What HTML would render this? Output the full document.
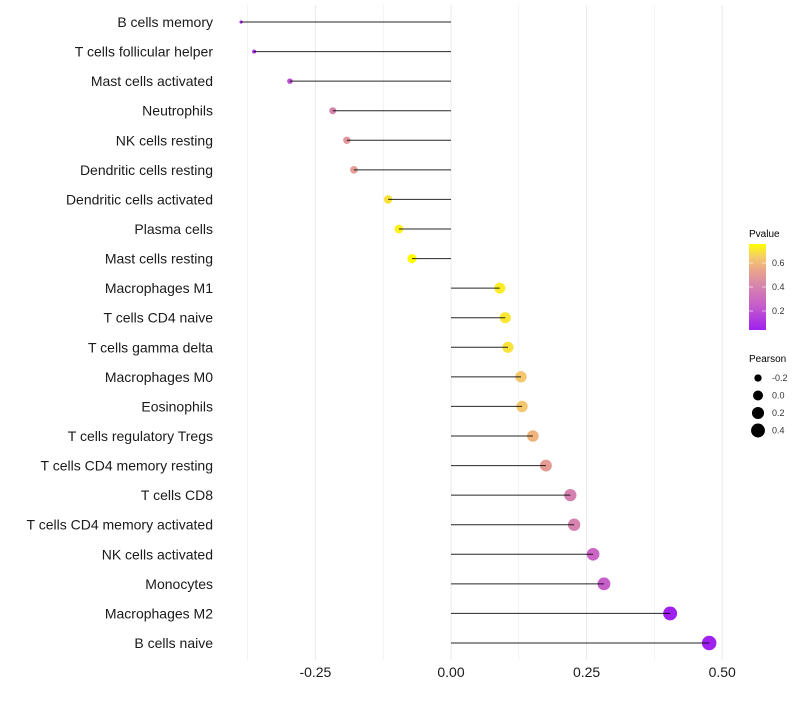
<!DOCTYPE html>
<html><head><meta charset="utf-8"><style>
body{margin:0;background:#fff;font-family:"Liberation Sans",sans-serif}
svg text{font-family:"Liberation Sans",sans-serif}
</style></head><body>
<svg id="chart" width="800" height="700">
<defs><linearGradient id="pg" x1="0" y1="1" x2="0" y2="0">
<stop offset="0" stop-color="#a020f0"/><stop offset="0.3" stop-color="#c860c8"/><stop offset="0.55" stop-color="#d98ba8"/><stop offset="0.7" stop-color="#eba58a"/><stop offset="0.85" stop-color="#f5cc6a"/><stop offset="1" stop-color="#ffff00"/>
</linearGradient></defs>
<g id="grid"></g><g id="marks"></g><g id="labels"></g><g id="xaxis"></g>
<g>
<text x="749" y="237" font-size="10">Pvalue</text>
<rect x="749" y="244" width="17" height="86" fill="url(#pg)"/>
<g id="plegend"></g>
</g>
<g id="slegend">
<text x="749" y="362" font-size="10">Pearson</text>
</g>
</svg>
<script>
const categories=["B cells memory","T cells follicular helper","Mast cells activated","Neutrophils","NK cells resting","Dendritic cells resting","Dendritic cells activated","Plasma cells","Mast cells resting","Macrophages M1","T cells CD4 naive","T cells gamma delta","Macrophages M0","Eosinophils","T cells regulatory  Tregs ","T cells CD4 memory resting","T cells CD8","T cells CD4 memory activated","NK cells activated","Monocytes","Macrophages M2","B cells naive"];
const pearson=[-0.387,-0.363,-0.297,-0.218,-0.192,-0.179,-0.116,-0.096,-0.072,0.090,0.100,0.105,0.129,0.131,0.151,0.175,0.220,0.227,0.262,0.282,0.404,0.476];
const pvalue=[0.06,0.08,0.20,0.40,0.48,0.50,0.69,0.72,0.75,0.71,0.70,0.69,0.63,0.63,0.58,0.50,0.39,0.40,0.27,0.25,0.04,0.04];
const xTicks=[-0.25,0,0.25,0.5];
const xTickLabels=["-0.25","0.00","0.25","0.50"];
const xMinor=[-0.375,-0.125,0.125,0.375];
const pTicks=[0.2,0.4,0.6];
const sizeTicks=[-0.2,0,0.2,0.4];
const NS="http://www.w3.org/2000/svg";
const X=v=>451+v*542.4;
const Y=i=>22+i*(643-22)/(categories.length-1);
const PY=p=>311-(p-0.2)*120;
const R=v=>Math.sqrt(Math.max(1,2.5+(v+0.387)*58));
const stops=[[0,[160,32,240]],[0.3,[200,96,200]],[0.55,[217,139,168]],[0.7,[235,165,138]],[0.85,[245,204,106]],[1,[255,255,0]]];
function col(p){const t=Math.max(0,Math.min(1,(p-0.04)/0.71));
let s=0;while(s<stops.length-2&&t>stops[s+1][0])s++;
const a=stops[s],b=stops[s+1],u=(t-a[0])/(b[0]-a[0]);
const c=a[1].map((x,k)=>Math.round(x+(b[1][k]-x)*u));return `rgb(${c})`;}
function mk(tag,at,parent){const e=document.createElementNS(NS,tag);for(const k in at)e.setAttribute(k,at[k]);parent.appendChild(e);return e;}
const grid=document.getElementById('grid'),marks=document.getElementById('marks'),labels=document.getElementById('labels'),xa=document.getElementById('xaxis');
xMinor.concat(xTicks).forEach(v=>{const l=mk('line',{x1:X(v),x2:X(v),y1:5,y2:660,stroke:'#ebebeb','stroke-width':xTicks.includes(v)?1.1:0.6},grid);

});
xTicks.forEach((v,i)=>{const t=mk('text',{x:X(v),y:677,'font-size':14,'text-anchor':'middle',fill:'#1a1a1a'},xa);t.textContent=xTickLabels[i];

});
categories.forEach((c,i)=>{
const y=Y(i);
const pt=mk('circle',{cx:X(pearson[i]),cy:y,r:R(pearson[i]),fill:col(pvalue[i])},marks);


const ln=mk('line',{x1:X(0),x2:X(pearson[i]),y1:y,y2:y,stroke:'#000','stroke-width':1,'stroke-opacity':0.85},marks);


const t=mk('text',{x:213,y:y+5,'font-size':14,'text-anchor':'end',fill:'#1a1a1a'},labels);t.textContent=c;


});
const pl=document.getElementById('plegend');
pTicks.forEach(p=>{mk('line',{x1:749,x2:753,y1:PY(p),y2:PY(p),stroke:'#fff','stroke-opacity':0.6},pl);mk('line',{x1:762,x2:766,y1:PY(p),y2:PY(p),stroke:'#fff','stroke-opacity':0.6},pl);
const t=mk('text',{x:772,y:PY(p)+3,'font-size':9,fill:'#333'},pl);t.textContent=p.toFixed(1);

});
const sl=document.getElementById('slegend');
sizeTicks.forEach((s,i)=>{const y=378+i*17.5;mk('circle',{cx:758,cy:y,r:R(s),fill:'#000'},sl);
const t=mk('text',{x:772,y:y+3,'font-size':9,fill:'#333'},sl);t.textContent=s.toFixed(1);

});
</script>
</body></html>
